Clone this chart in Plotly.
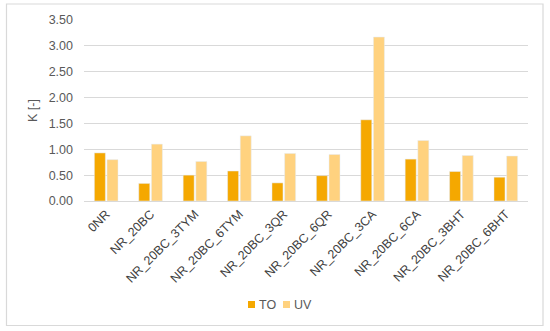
import plotly.graph_objects as go

categories = ["0NR", "NR_20BC", "NR_20BC_3TYM", "NR_20BC_6TYM", "NR_20BC_3QR",
              "NR_20BC_6QR", "NR_20BC_3CA", "NR_20BC_6CA", "NR_20BC_3BHT", "NR_20BC_6BHT"]
to_values = [0.93, 0.34, 0.50, 0.58, 0.35, 0.49, 1.57, 0.81, 0.57, 0.46]
uv_values = [0.80, 1.10, 0.765, 1.26, 0.92, 0.90, 3.17, 1.17, 0.88, 0.87]
series_names = ["TO", "UV"]
series_colors = ["#F5A800", "#FFD27F"]
y_ticks = [0, 0.5, 1.0, 1.5, 2.0, 2.5, 3.0, 3.5]
y_ticklabels = ["0.00", "0.50", "1.00", "1.50", "2.00", "2.50", "3.00", "3.50"]

W, H = 550, 331
L, R, T, B = 84, 22, 20, 130
pw, ph = W - L - R, H - T - B

def px_x(p):
    return (p - L) / pw

def px_y(p):
    return (H - B - p) / ph

fig = go.Figure()
for name, vals, col in zip(series_names, [to_values, uv_values], series_colors):
    fig.add_trace(go.Bar(x=categories, y=vals, name=name, marker_color=col, showlegend=False))

shapes = [dict(type="rect", xref="paper", yref="paper",
               x0=px_x(6.5), x1=px_x(543), y0=px_y(325.5), y1=px_y(4),
               line=dict(color="#D9D9D9", width=1.2), fillcolor="rgba(0,0,0,0)", layer="below")]
annotations = []
legend_x = [248, 283]
for name, col, lx in zip(series_names, series_colors, legend_x):
    shapes.append(dict(type="rect", xref="paper", yref="paper",
                       x0=px_x(lx), x1=px_x(lx + 7), y0=px_y(308), y1=px_y(301),
                       line=dict(width=0), fillcolor=col))
    annotations.append(dict(text=name, xref="paper", yref="paper", x=px_x(lx + 9), y=px_y(304.5),
                            xanchor="left", yanchor="middle", showarrow=False,
                            font=dict(size=12.5, color="#595959")))

fig.update_layout(
    width=W, height=H,
    margin=dict(l=L, r=R, t=T, b=B, autoexpand=False),
    paper_bgcolor="white", plot_bgcolor="white",
    barmode="group", bargap=0.43, bargroupgap=0.13,
    font=dict(family="Liberation Sans, Arial, sans-serif", color="#595959", size=12),
    showlegend=False,
    xaxis=dict(tickangle=-45, showgrid=False, showline=True, linecolor="#D9D9D9",
               linewidth=1, tickfont=dict(size=12.5, color="#404040"), ticks="",
               automargin=False),
    yaxis=dict(range=[0, 3.5], tickvals=y_ticks, ticktext=y_ticklabels,
               showgrid=True, gridcolor="#D9D9D9", gridwidth=1, zeroline=False,
               tickfont=dict(size=12.5, color="#595959"), ticklabelstandoff=10,
               automargin=False,
               title=dict(text="K [-]", font=dict(size=12.5, color="#595959"), standoff=8)),
    shapes=shapes,
    annotations=annotations,
)

fig.write_html("out.html", config={"displayModeBar": False},
               post_script="document.body.style.margin='0';document.body.style.overflow='hidden';")
